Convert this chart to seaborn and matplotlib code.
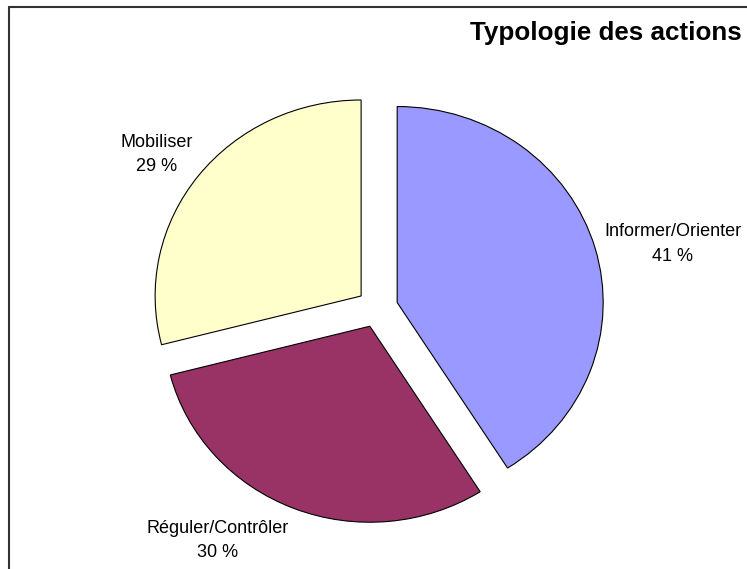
#%%
import matplotlib
matplotlib.use("Agg")
import matplotlib.pyplot as plt
import seaborn as sns
from matplotlib.lines import Line2D

# %%
categories = ["Informer/Orienter", "Réguler/Contrôler", "Mobiliser"]
values = [41, 30, 29]
colors = ["#9999FF", "#993366", "#FFFFCC"]

sns.set_theme(style="white")
plt.rcParams['font.family'] = ['Liberation Sans', 'DejaVu Sans']
plt.rcParams['text.color'] = 'black'

W, H = 747, 569
fig = plt.figure(figsize=(W / 100, H / 100), dpi=100)
ax = fig.add_axes([0, 0, 1, 1])

wedges, _ = ax.pie(values, colors=colors, startangle=90, counterclock=False,
                   explode=[0.1] * len(values),
                   wedgeprops=dict(edgecolor="black", linewidth=0.8))

# excel pie is a bit wider than tall: 206 px per unit in x, 196 in y
cx, cy, sx, sy = 377.4, 308, 206, 196
ax.set_xlim(-cx / sx, (W - cx) / sx)
ax.set_ylim(-(H - cy) / sy, cy / sy)
ax.set_aspect("auto")
ax.axis("off")

# label placement in pixels: (x centre, baseline of name, baseline of percent)
label_px = [(673, 236.5, 260.7), (218, 533.3, 557.3), (157, 146.7, 171)]
for name, v, (x, yn, yp) in zip(categories, values, label_px):
    fig.text(x / W, 1 - yn / H, name, ha="center", va="baseline", fontsize=13)
    fig.text(x / W, 1 - yp / H, f"{v} %", ha="center", va="baseline", fontsize=13)

fig.text(742 / W, 1 - 40 / H, "Typologie des actions", ha="right", va="baseline",
         fontsize=18.7, fontweight="bold")

# chart frame (top and left edge)
fig.add_artist(Line2D([9 / W, 1], [1 - 6.5 / H] * 2, color="#333333", lw=1.5))
fig.add_artist(Line2D([9 / W] * 2, [0, 1 - 6.5 / H], color="#333333", lw=1.5))

fig.savefig("out.png", dpi=100)
